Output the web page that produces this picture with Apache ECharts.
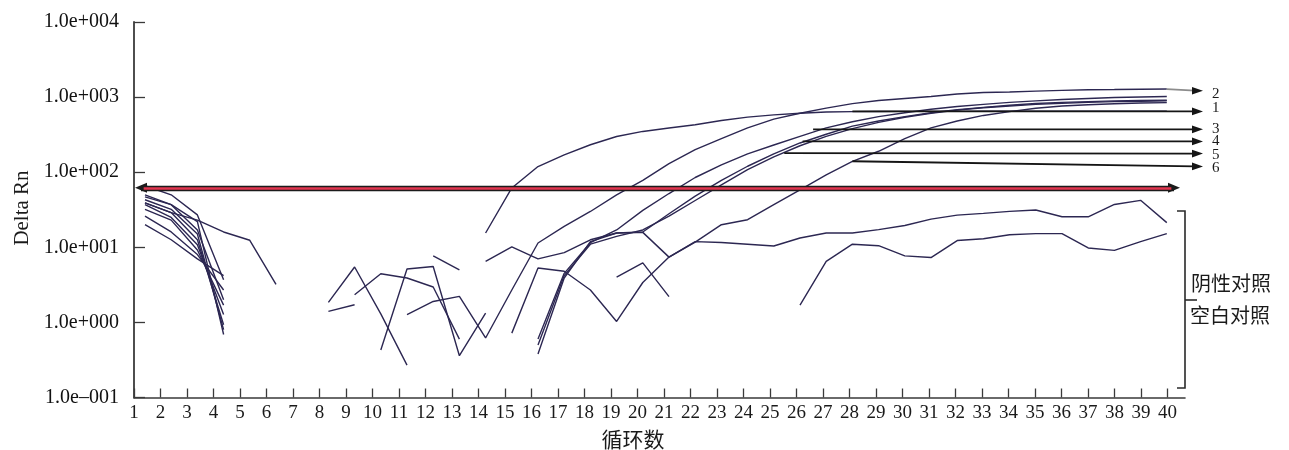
<!DOCTYPE html>
<html lang="zh">
<head>
<meta charset="utf-8">
<title>Delta Rn 扩增曲线</title>
<script src="https://cdn.jsdelivr.net/npm/echarts@6.0.0/dist/echarts.min.js"></script>
<style>
html, body { margin: 0; padding: 0; background: #fff; }
#chart { width: 1289px; height: 450px; }
</style>
</head>
<body>
<div id="chart"></div>
<script>
// ---- axis ticks ----
const cycleTicks = [1, 2, 3, 4, 5, 6, 7, 8, 9, 10, 11, 12, 13, 14, 15, 16, 17, 18, 19, 20,
  21, 22, 23, 24, 25, 26, 27, 28, 29, 30, 31, 32, 33, 34, 35, 36, 37, 38, 39, 40];
const deltaRnTickLabels = ['1.0e–001', '1.0e+000', '1.0e+001', '1.0e+002', '1.0e+003', '1.0e+004'];
const threshold = 62;

// ---- early-cycle baseline traces [cycle, Delta Rn] ----
const early1 = [[1, 66], [2, 50], [3, 27], [4, 3.7]];
const early2 = [[1, 50], [2, 37], [3, 22], [4, 0.69]];
const early3 = [[1, 43], [2, 32], [3, 15], [4, 0.8]];
const early4 = [[1, 39], [2, 29], [3, 12.6], [4, 0.93]];
const early5 = [[1, 37], [2, 25], [3, 10.8], [4, 1.27]];
const early6 = [[1, 32], [2, 23], [3, 9.2], [4, 1.7]];
const early7 = [[1, 47], [2, 37], [3, 17], [4, 2.0]];
const early8 = [[1, 26], [2, 16], [3, 8], [4, 2.7]];
const early9 = [[1, 20], [2, 12.6], [3, 7], [4, 4.2]];
const early10 = [[1, 39], [2, 29], [3, 23], [4, 16], [5, 12.4], [6, 3.2]];

// ---- mid-run noise ----
const noise1 = [[8, 1.85], [9, 5.47], [10, 1.3], [11, 0.27]];
const noise2 = [[8, 1.4], [9, 1.72]];
const noise3 = [[9, 2.34], [10, 4.45], [11, 3.9], [12, 2.96], [13, 0.6]];
const noise4 = [[10, 0.43], [11, 5.13], [12, 5.56], [13, 0.36], [14, 1.33]];
const noise6 = [[12, 7.7], [13, 5.0]];
const noise7 = [[19, 4.0], [20, 6.2], [21, 2.2]];

// ---- amplification curves (samples 1-6) ----
const sample1 = [[14, 15.5], [15, 61.7], [16, 119], [17, 170], [18, 232], [19, 299], [20, 349],
  [21, 387], [22, 428], [23, 488], [24, 541], [25, 580], [26, 610], [27, 632], [28, 640],
  [29, 643], [30, 645], [31, 645], [32, 646], [33, 647], [34, 648], [35, 648], [36, 649],
  [37, 649], [38, 650], [39, 650], [40, 650]];
const sample2 = [[11, 1.27], [12, 1.9], [13, 2.22], [14, 0.62], [15, 2.7], [16, 11.4], [17, 19],
  [18, 30], [19, 50], [20, 78], [21, 130], [22, 200], [23, 280], [24, 390], [25, 510],
  [26, 610], [27, 712], [28, 820], [29, 900], [30, 960], [31, 1020], [32, 1100], [33, 1150],
  [34, 1170], [35, 1200], [36, 1230], [37, 1250], [38, 1260], [39, 1275], [40, 1280]];
const sample3 = [[16, 0.6], [17, 4.5], [18, 11.5], [19, 17], [20, 31], [21, 52], [22, 85],
  [23, 125], [24, 175], [25, 230], [26, 300], [27, 390], [28, 470], [29, 550], [30, 620],
  [31, 690], [32, 750], [33, 800], [34, 850], [35, 890], [36, 930], [37, 960], [38, 990],
  [39, 1005], [40, 1020]];
const sample4 = [[16, 0.38], [17, 3.9], [18, 11.9], [19, 15.5], [20, 16], [21, 28], [22, 48],
  [23, 78], [24, 120], [25, 175], [26, 245], [27, 320], [28, 410], [29, 480], [30, 550],
  [31, 620], [32, 680], [33, 730], [34, 780], [35, 820], [36, 850], [37, 870], [38, 890],
  [39, 900], [40, 910]];
const sample5 = [[16, 0.5], [17, 4.2], [18, 11], [19, 14], [20, 17], [21, 26], [22, 42],
  [23, 68], [24, 108], [25, 160], [26, 225], [27, 300], [28, 380], [29, 460], [30, 540],
  [31, 610], [32, 670], [33, 720], [34, 760], [35, 800], [36, 830], [37, 850], [38, 870],
  [39, 880], [40, 890]];
const sample6 = [[15, 0.72], [16, 5.3], [17, 4.8], [18, 2.7], [19, 1.03], [20, 3.4], [21, 7.4],
  [22, 11.7], [23, 20], [24, 23.3], [25, 37], [26, 58], [27, 92], [28, 139], [29, 190],
  [30, 280], [31, 390], [32, 480], [33, 570], [34, 640], [35, 710], [36, 760], [37, 790],
  [38, 815], [39, 835], [40, 845]];

// ---- controls ----
const negativeControl = [[14, 6.5], [15, 10.1], [16, 7.0], [17, 8.5], [18, 12.6], [19, 15.5],
  [20, 15.8], [21, 7.4], [22, 11.9], [23, 11.6], [24, 11.0], [25, 10.4], [26, 13.3], [27, 15.5],
  [28, 15.5], [29, 17.2], [30, 19.5], [31, 23.7], [32, 26.8], [33, 28.3], [34, 30.1],
  [35, 31.4], [36, 25.5], [37, 25.5], [38, 37.2], [39, 42.2], [40, 21.3]];
const blankControl = [[26, 1.7], [27, 6.5], [28, 11], [29, 10.5], [30, 7.7], [31, 7.3],
  [32, 12.3], [33, 13], [34, 14.7], [35, 15.2], [36, 15.2], [37, 9.8], [38, 9.1],
  [39, 11.9], [40, 15.2]];

// callout arrows: start on a curve [cycle, Delta Rn], end level at the label column
const callouts = [
  { text: '2', from: [40, 1274], to: 1217, dy: 3, stroke: '#8c8c8c' },
  { text: '1', from: [28, 645], to: 645, dy: -3 },
  { text: '3', from: [26.5, 372], to: 372, dy: 0 },
  { text: '4', from: [26.1, 257], to: 257, dy: 0 },
  { text: '5', from: [25.4, 180], to: 177, dy: 1 },
  { text: '6', from: [28, 140], to: 119.5, dy: 2 }
];

// ---- layout ----
const GRID = { left: 134, top: 22, width: 1051, height: 375.5 };
const TICK_STEP = 26.5;         // px between cycle ticks
const READ_STEP = 26.2;         // px between plotted reads
const READ_OFFSET = 11;         // first read sits right of the first tick
const readMin = 1 - READ_OFFSET / READ_STEP;
const readMax = readMin + GRID.width / READ_STEP;
const INK = '#2c2752';
const SERIF = "'Liberation Serif', 'Times New Roman', serif";
const CJK = "'Noto Sans CJK SC', sans-serif";

const traces = [early1, early2, early3, early4, early5, early6, early7, early8, early9, early10,
  noise1, noise2, noise3, noise4, noise6, noise7,
  negativeControl, blankControl,
  sample6, sample5, sample4, sample3, sample2, sample1];

const series = traces.map(d => ({
  type: 'line',
  xAxisIndex: 1,
  yAxisIndex: 0,
  data: d,
  symbol: 'none',
  silent: true,
  z: 2,
  lineStyle: { color: INK, width: 1.4 }
}));

// threshold: dark outline with arrowheads, red core on top
const thrFrom = 1 + 7 / TICK_STEP;
const thrTo = 1 + 1040 / TICK_STEP;
series.push({
  type: 'line', xAxisIndex: 0, yAxisIndex: 0, data: [], z: 5, silent: true,
  markLine: {
    silent: true, animation: false,
    symbol: ['triangle', 'triangle'], symbolSize: [10, 12],
    label: { show: false },
    lineStyle: { color: '#1b1b1b', width: 5.4, type: 'solid' },
    emphasis: { disabled: true },
    data: [[{ coord: [thrFrom, threshold] }, { coord: [thrTo, threshold] }]]
  }
});
series.push({
  type: 'line', xAxisIndex: 0, yAxisIndex: 0, data: [], z: 6, silent: true,
  markLine: {
    silent: true, animation: false,
    symbol: ['none', 'none'],
    label: { show: false },
    lineStyle: { color: '#e2364f', width: 2.6, type: 'solid' },
    emphasis: { disabled: true },
    data: [[{ coord: [thrFrom + 0.1, threshold] }, { coord: [thrTo - 0.1, threshold] }]]
  }
});

const chart = echarts.init(document.getElementById('chart'), null, { renderer: 'canvas' });
chart.setOption({
  animation: false,
  backgroundColor: '#ffffff',
  grid: { left: GRID.left, top: GRID.top, width: GRID.width, height: GRID.height,
    containLabel: false, outerBoundsMode: 'none' },
  xAxis: [
    {
      type: 'value', min: 1, max: 1 + GRID.width / TICK_STEP,
      axisLine: { show: true, lineStyle: { color: '#3a3a3a', width: 1.6 } },
      axisTick: { show: true, inside: true, length: 9, customValues: cycleTicks,
        lineStyle: { color: '#3a3a3a', width: 1.3 } },
      axisLabel: { customValues: cycleTicks, margin: 6, color: '#1a1a1a',
        fontFamily: SERIF, fontSize: 19 },
      splitLine: { show: false }
    },
    { type: 'value', min: readMin, max: readMax, show: false }
  ],
  yAxis: [{
    type: 'log', logBase: 10, min: 0.1, max: 10000,
    axisLine: { show: true, lineStyle: { color: '#3a3a3a', width: 1.8 } },
    axisTick: { show: true, inside: true, length: 11, lineStyle: { color: '#3a3a3a', width: 1.3 } },
    axisLabel: {
      margin: 15, color: '#111', fontFamily: SERIF, fontSize: 20,
      formatter: v => deltaRnTickLabels[Math.round(Math.log10(v)) + 1]
    },
    splitLine: { show: false },
    minorTick: { show: false }
  }],
  series: series
});

// callout arrows, bracket and titles
const TIP_X = 1203;
const graphics = [];
callouts.forEach(c => {
  const p0 = chart.convertToPixel({ xAxisIndex: 1, yAxisIndex: 0 }, c.from);
  const yTip = chart.convertToPixel({ xAxisIndex: 1, yAxisIndex: 0 }, [40, c.to])[1];
  graphics.push({
    type: 'line', silent: true, z: 20,
    shape: { x1: p0[0], y1: p0[1], x2: TIP_X - 8, y2: yTip },
    style: { stroke: c.stroke || '#151515', lineWidth: 1.8 }
  });
  graphics.push({
    type: 'polygon', silent: true, z: 21,
    shape: { points: [[TIP_X, yTip], [TIP_X - 11, yTip - 3.8], [TIP_X - 11, yTip + 3.8]] },
    style: { fill: '#151515' }
  });
  graphics.push({
    type: 'text', silent: true, z: 21, x: TIP_X + 9, y: yTip + c.dy,
    style: { text: c.text, font: '15px ' + SERIF, fill: '#1a1a1a',
      textAlign: 'left', textVerticalAlign: 'middle' }
  });
});

graphics.push({
  type: 'polyline', silent: true, z: 20,
  shape: { points: [[1177, 211], [1185, 211], [1185, 388], [1177, 388]] },
  style: { stroke: '#2a2a2a', lineWidth: 1.6, fill: null }
});
graphics.push({
  type: 'line', silent: true, z: 20,
  shape: { x1: 1185, y1: 300, x2: 1197, y2: 300 },
  style: { stroke: '#2a2a2a', lineWidth: 1.6 }
});
graphics.push({
  type: 'text', silent: true, z: 21, x: 1191, y: 283,
  style: { text: '阴性对照', font: '20px ' + CJK, fill: '#1a1a1a',
    textAlign: 'left', textVerticalAlign: 'middle' }
});
graphics.push({
  type: 'text', silent: true, z: 21, x: 1190, y: 315,
  style: { text: '空白对照', font: '20px ' + CJK, fill: '#1a1a1a',
    textAlign: 'left', textVerticalAlign: 'middle' }
});
graphics.push({
  type: 'text', silent: true, z: 21, x: 633, y: 439,
  style: { text: '循环数', font: '21px ' + CJK, fill: '#1a1a1a',
    textAlign: 'center', textVerticalAlign: 'middle' }
});
graphics.push({
  type: 'text', silent: true, z: 21, x: 22, y: 208, rotation: Math.PI / 2,
  style: { text: 'Delta Rn', font: '21px ' + SERIF, fill: '#1a1a1a',
    textAlign: 'center', textVerticalAlign: 'middle' }
});

chart.setOption({ graphic: graphics });
</script>
</body>
</html>
